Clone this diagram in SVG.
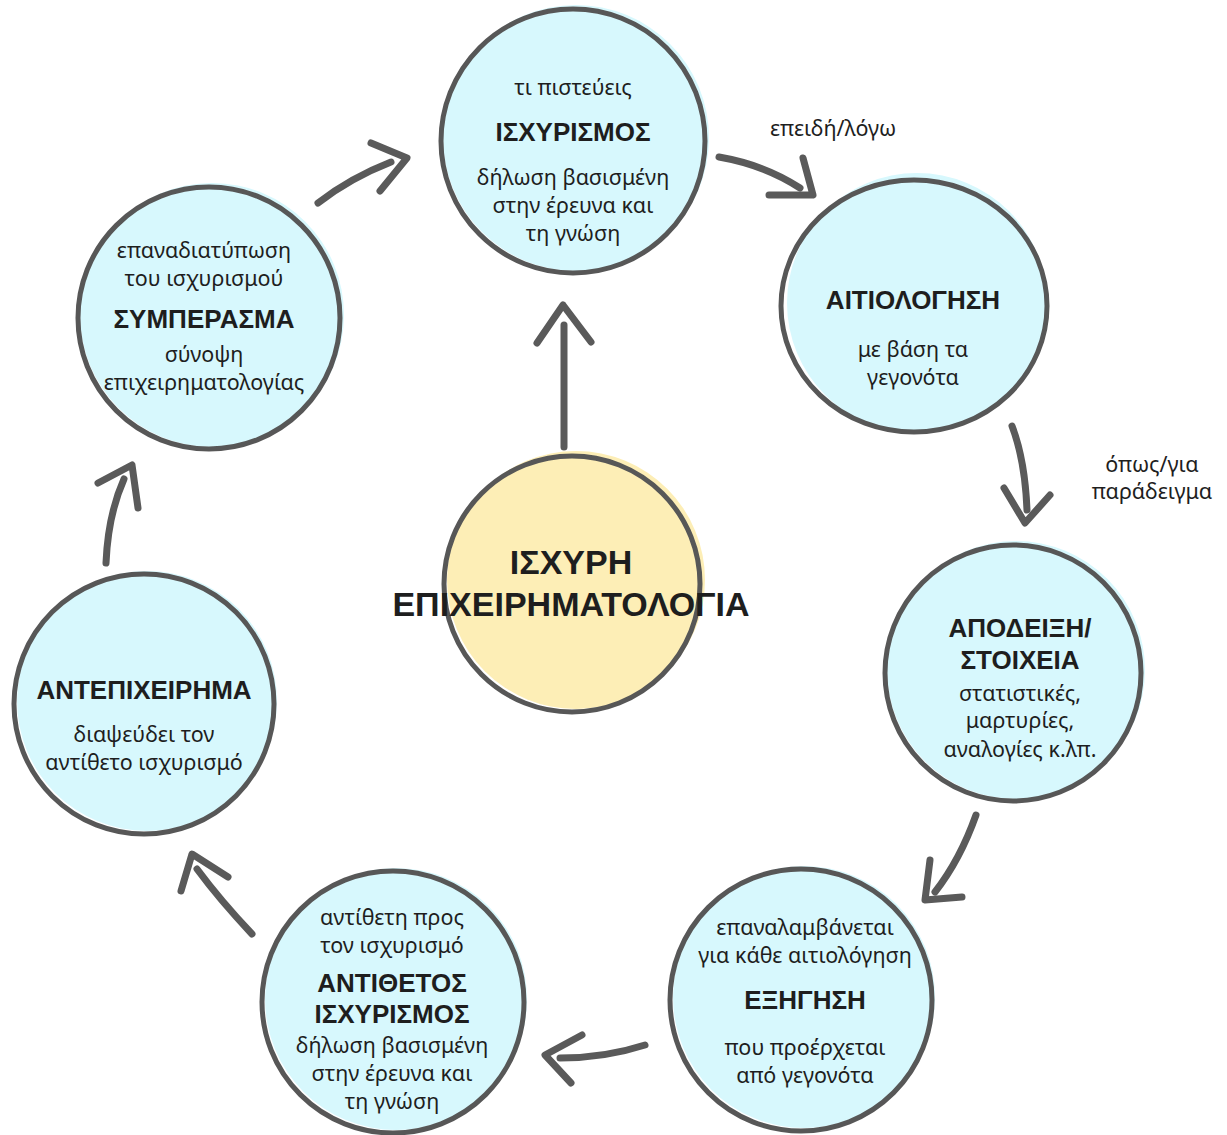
<svg xmlns="http://www.w3.org/2000/svg" width="1227" height="1135" viewBox="0 0 1227 1135">
<style>
.fill{fill:#d7f8fd}
.yfill{fill:#fdeeb6}
.ring{fill:none;stroke:#575757;stroke-width:5}
.hand{font-family:"Noto Sans","Open Sans",sans-serif;font-size:21.5px;fill:#1e1e1e;text-anchor:middle}
.bold{font-family:"Liberation Sans",Arial,sans-serif;font-weight:bold;font-size:26px;fill:#1e1e1e;text-anchor:middle}
.big{font-family:"Liberation Sans",Arial,sans-serif;font-weight:bold;font-size:34px;fill:#1e1e1e;text-anchor:middle}
.arr{fill:none;stroke:#5a5a5a;stroke-width:7;stroke-linecap:round;stroke-linejoin:round}
</style>
<rect width="1227" height="1135" fill="#ffffff"/>
<g id="connectors">
<path class="arr" d="M318,203 Q350,178 391,162"/><path class="arr" d="M371,143 L407,158 L380,191"/>
<path class="arr" d="M564,447 L564,325"/><path class="arr" d="M537,343 L563,305 L591,342"/>
<path class="arr" d="M719,157 Q765,165 800,188"/><path class="arr" d="M803,158 L813,195 L769,195"/>
<path class="arr" d="M1012,426 Q1025,460 1027,510"/><path class="arr" d="M1004,488 L1025,523 L1050,495"/>
<path class="arr" d="M976,815 Q960,860 935,892"/><path class="arr" d="M930,860 L925,900 L962,897"/>
<path class="arr" d="M645,1045 Q605,1058 560,1058"/><path class="arr" d="M582,1035 L545,1055 L571,1083"/>
<path class="arr" d="M252,934 Q220,900 197,869"/><path class="arr" d="M181,891 L192,854 L228,877"/>
<path class="arr" d="M106,563 Q108,515 124,479"/><path class="arr" d="M98,483 L132,465 L138,508"/>
<text class="hand" x="833" y="136">επειδή/λόγω</text>
<text class="hand" x="1152" y="472">όπως/για</text>
<text class="hand" x="1152" y="499">παράδειγμα</text>
</g>
<g id="claim">
<circle class="fill" cx="576" cy="138" r="133"/>
<circle class="ring" cx="573" cy="141" r="132"/>
<text class="hand" x="573" y="95">τι πιστεύεις</text>
<text class="bold" x="573" y="141">ΙΣΧΥΡΙΣΜΟΣ</text>
<text class="hand" x="573" y="185">δήλωση βασισμένη</text>
<text class="hand" x="573" y="213">στην έρευνα και</text>
<text class="hand" x="573" y="241">τη γνώση</text>
</g>
<g id="reasoning">
<circle class="fill" cx="917" cy="303" r="130"/>
<ellipse class="ring" cx="914" cy="306" rx="133" ry="126"/>
<text class="bold" x="913" y="309">ΑΙΤΙΟΛΟΓΗΣΗ</text>
<text class="hand" x="913" y="357">με βάση τα</text>
<text class="hand" x="913" y="385">γεγονότα</text>
</g>
<g id="evidence">
<circle class="fill" cx="1016" cy="670" r="129"/>
<circle class="ring" cx="1013" cy="673" r="128"/>
<text class="bold" x="1020" y="637">ΑΠΟΔΕΙΞΗ/</text>
<text class="bold" x="1020" y="669">ΣΤΟΙΧΕΙΑ</text>
<text class="hand" x="1020" y="701">στατιστικές,</text>
<text class="hand" x="1020" y="728">μαρτυρίες,</text>
<text class="hand" x="1020" y="757">αναλογίες κ.λπ.</text>
</g>
<g id="explanation">
<circle class="fill" cx="804" cy="997" r="131"/>
<circle class="ring" cx="801" cy="1000" r="131"/>
<text class="hand" x="805" y="935">επαναλαμβάνεται</text>
<text class="hand" x="805" y="963">για κάθε αιτιολόγηση</text>
<text class="bold" x="805" y="1009">ΕΞΗΓΗΣΗ</text>
<text class="hand" x="805" y="1055">που προέρχεται</text>
<text class="hand" x="805" y="1083">από γεγονότα</text>
</g>
<g id="counterclaim">
<circle class="fill" cx="396" cy="999" r="131"/>
<circle class="ring" cx="393" cy="1002" r="131"/>
<text class="hand" x="392" y="925">αντίθετη προς</text>
<text class="hand" x="392" y="953">τον ισχυρισμό</text>
<text class="bold" x="392" y="992">ΑΝΤΙΘΕΤΟΣ</text>
<text class="bold" x="392" y="1023">ΙΣΧΥΡΙΣΜΟΣ</text>
<text class="hand" x="392" y="1053">δήλωση βασισμένη</text>
<text class="hand" x="392" y="1081">στην έρευνα και</text>
<text class="hand" x="392" y="1109">τη γνώση</text>
</g>
<g id="rebuttal">
<circle class="fill" cx="147" cy="701" r="130"/>
<circle class="ring" cx="144" cy="704" r="130"/>
<text class="bold" x="144" y="699">ΑΝΤΕΠΙΧΕΙΡΗΜΑ</text>
<text class="hand" x="144" y="742">διαψεύδει τον</text>
<text class="hand" x="144" y="770">αντίθετο ισχυρισμό</text>
</g>
<g id="conclusion">
<circle class="fill" cx="212" cy="315" r="132"/>
<circle class="ring" cx="209" cy="318" r="131"/>
<text class="hand" x="204" y="258">επαναδιατύπωση</text>
<text class="hand" x="204" y="286">του ισχυρισμού</text>
<text class="bold" x="204" y="328">ΣΥΜΠΕΡΑΣΜΑ</text>
<text class="hand" x="204" y="362">σύνοψη</text>
<text class="hand" x="204" y="390">επιχειρηματολογίας</text>
</g>
<g id="center">
<circle class="yfill" cx="576" cy="580" r="129"/>
<circle class="ring" cx="572" cy="584" r="128"/>
<text class="big" x="571" y="574">ΙΣΧΥΡΗ</text>
<text class="big" x="571" y="616">ΕΠΙΧΕΙΡΗΜΑΤΟΛΟΓΙΑ</text>
</g>
</svg>
